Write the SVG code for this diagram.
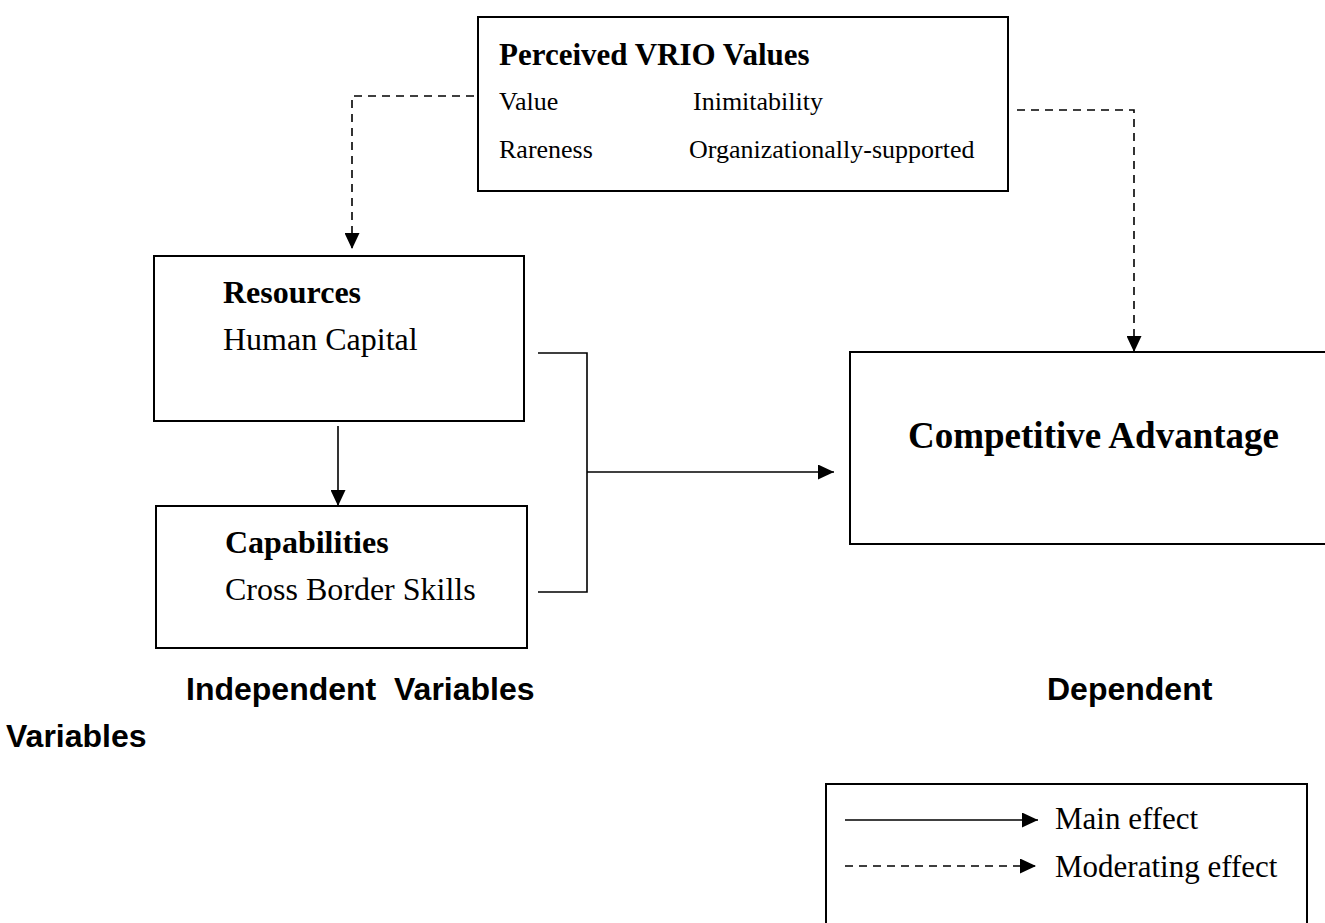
<svg xmlns="http://www.w3.org/2000/svg" width="1325" height="923" viewBox="0 0 1325 923">
<style>
.box{fill:none;stroke:#000;stroke-width:2}
.serif{font-family:"Liberation Serif","Times New Roman",serif;fill:#000}
.b{font-weight:bold}
.sans{font-family:"Liberation Sans",Arial,sans-serif;font-weight:bold;fill:#000;white-space:pre}
.line{fill:none;stroke:#000;stroke-width:1.6}
.dash{stroke-dasharray:8 6}
</style>
<defs>
<marker id="ah" markerWidth="16" markerHeight="15" refX="16" refY="7.5" orient="auto" markerUnits="userSpaceOnUse"><path d="M0,0 L16,7.5 L0,15 Z" fill="#000"/></marker>
</defs>
<rect width="1325" height="923" fill="#fff"/>
<g id="vrio">
<rect class="box" x="478" y="17" width="530" height="174"/>
<text class="serif b" x="499" y="65" font-size="31">Perceived VRIO Values</text>
<text class="serif" x="499" y="110" font-size="26">Value</text>
<text class="serif" x="693" y="110" font-size="26">Inimitability</text>
<text class="serif" x="499" y="158" font-size="26">Rareness</text>
<text class="serif" x="689" y="158" font-size="26">Organizationally-supported</text>
</g>
<g id="resources">
<rect class="box" x="154" y="256" width="370" height="165"/>
<text class="serif b" x="223" y="303" font-size="32">Resources</text>
<text class="serif" x="223" y="350" font-size="32">Human Capital</text>
</g>
<g id="capabilities">
<rect class="box" x="156" y="506" width="371" height="142"/>
<text class="serif b" x="225" y="553" font-size="32">Capabilities</text>
<text class="serif" x="225" y="600" font-size="32">Cross Border Skills</text>
</g>
<g id="competitive">
<path class="box" d="M1325,352 H850 V544 H1325"/>
<text class="serif b" x="908" y="448" font-size="37">Competitive Advantage</text>
</g>
<g id="connectors">
<path class="line dash" d="M474,96 H352 V249" marker-end="url(#ah)"/>
<path class="line dash" d="M1017,110 H1134 V352" marker-end="url(#ah)"/>
<path class="line" d="M338,426 V506" marker-end="url(#ah)"/>
<path class="line" d="M538,353 H587 V592 H538"/>
<path class="line" d="M587,472 H834" marker-end="url(#ah)"/>
</g>
<g id="labels">
<text class="sans" x="186" y="700" font-size="32" xml:space="preserve">Independent  Variables</text>
<text class="sans" x="1047" y="700" font-size="32">Dependent</text>
<text class="sans" x="6" y="747" font-size="32">Variables</text>
</g>
<g id="legend">
<path class="box" d="M826,923 V784 H1307 V923"/>
<path class="line" d="M845,820 H1038" marker-end="url(#ah)"/>
<text class="serif" x="1055" y="829" font-size="31">Main effect</text>
<path class="line dash" d="M845,866 H1036" marker-end="url(#ah)"/>
<text class="serif" x="1055" y="877" font-size="31">Moderating effect</text>
</g>
</svg>
